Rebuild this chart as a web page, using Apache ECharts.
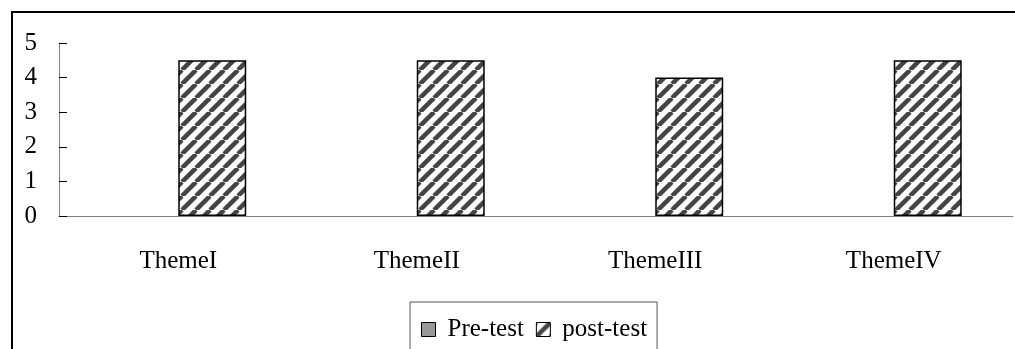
<!DOCTYPE html>
<html>
<head>
<meta charset="utf-8">
<script src="https://cdn.jsdelivr.net/npm/echarts@6/dist/echarts.min.js"></script>
<style>
  html, body { margin: 0; padding: 0; background: #fff; }
  #chart { width: 1015px; height: 349px; }
</style>
</head>
<body>
<div id="chart"></div>
<script>
const categories = ['ThemeI', 'ThemeII', 'ThemeIII', 'ThemeIV'];
const preTest = [0, 0, 0, 0];
const postTest = [4.5, 4.5, 4, 4.5];
const yTicks = { min: 0, max: 5, step: 1 };

const FONT = '"Liberation Serif", "Times New Roman", serif';
const FS = 25;

// 斜线填充：/ 方向，深灰条纹
function hatch() {
  const p = 14;
  const c = document.createElement('canvas');
  c.width = p; c.height = p;
  const ctx = c.getContext('2d');
  ctx.fillStyle = '#fff';
  ctx.fillRect(0, 0, p, p);
  ctx.strokeStyle = '#444';
  ctx.lineWidth = 4.5;
  for (const k of [-p, 0, p]) {
    ctx.beginPath();
    ctx.moveTo(k, p);
    ctx.lineTo(k + p, 0);
    ctx.stroke();
  }
  return c;
}

const chart = echarts.init(document.getElementById('chart'));
chart.setOption({
  animation: false,
  backgroundColor: '#fff',
  textStyle: { fontFamily: FONT },
  graphic: [{
    type: 'rect', silent: true,
    shape: { x: 12, y: 12, width: 1100, height: 500 },
    style: { fill: 'none', stroke: '#000', lineWidth: 2 },
  }],
  grid: { left: 59, right: 2, top: 43, bottom: 133 },
  legend: {
    left: 410, top: 302,
    padding: [15, 10, 20, 11],
    borderColor: '#555', borderWidth: 1,
    itemWidth: 14, itemHeight: 14, itemGap: 12,
    icon: 'rect',
    textStyle: { fontFamily: FONT, fontSize: FS, color: '#000', padding: [0, 0, 0, 7] },
    data: [
      { name: 'Pre-test', itemStyle: { color: '#999', borderColor: '#000', borderWidth: 1 } },
      { name: 'post-test', itemStyle: { borderColor: '#000', borderWidth: 1 } },
    ],
  },
  xAxis: {
    type: 'category',
    data: categories,
    axisLine: { lineStyle: { color: '#808080', width: 1 } },
    axisTick: { inside: true, length: 8, lineStyle: { color: '#000' } },
    axisLabel: { fontFamily: FONT, fontSize: FS, color: '#000', margin: 33 },
  },
  yAxis: {
    type: 'value',
    min: yTicks.min, max: yTicks.max, interval: yTicks.step,
    axisLine: { show: true, lineStyle: { color: '#808080', width: 1 } },
    axisTick: { show: true, inside: true, length: 8, lineStyle: { color: '#000' } },
    splitLine: { show: false },
    axisLabel: { fontFamily: FONT, fontSize: FS, color: '#000', margin: 22 },
  },
  series: [
    {
      name: 'Pre-test', type: 'bar', data: preTest,
      barGap: '0%', barCategoryGap: '43%',
      itemStyle: { color: '#999', borderWidth: 0 },
    },
    {
      name: 'post-test', type: 'bar', data: postTest,
      barGap: '0%', barCategoryGap: '43%',
      itemStyle: { color: { image: hatch(), repeat: 'repeat' }, borderColor: '#000', borderWidth: 1.5 },
    },
  ],
});
</script>
</body>
</html>
